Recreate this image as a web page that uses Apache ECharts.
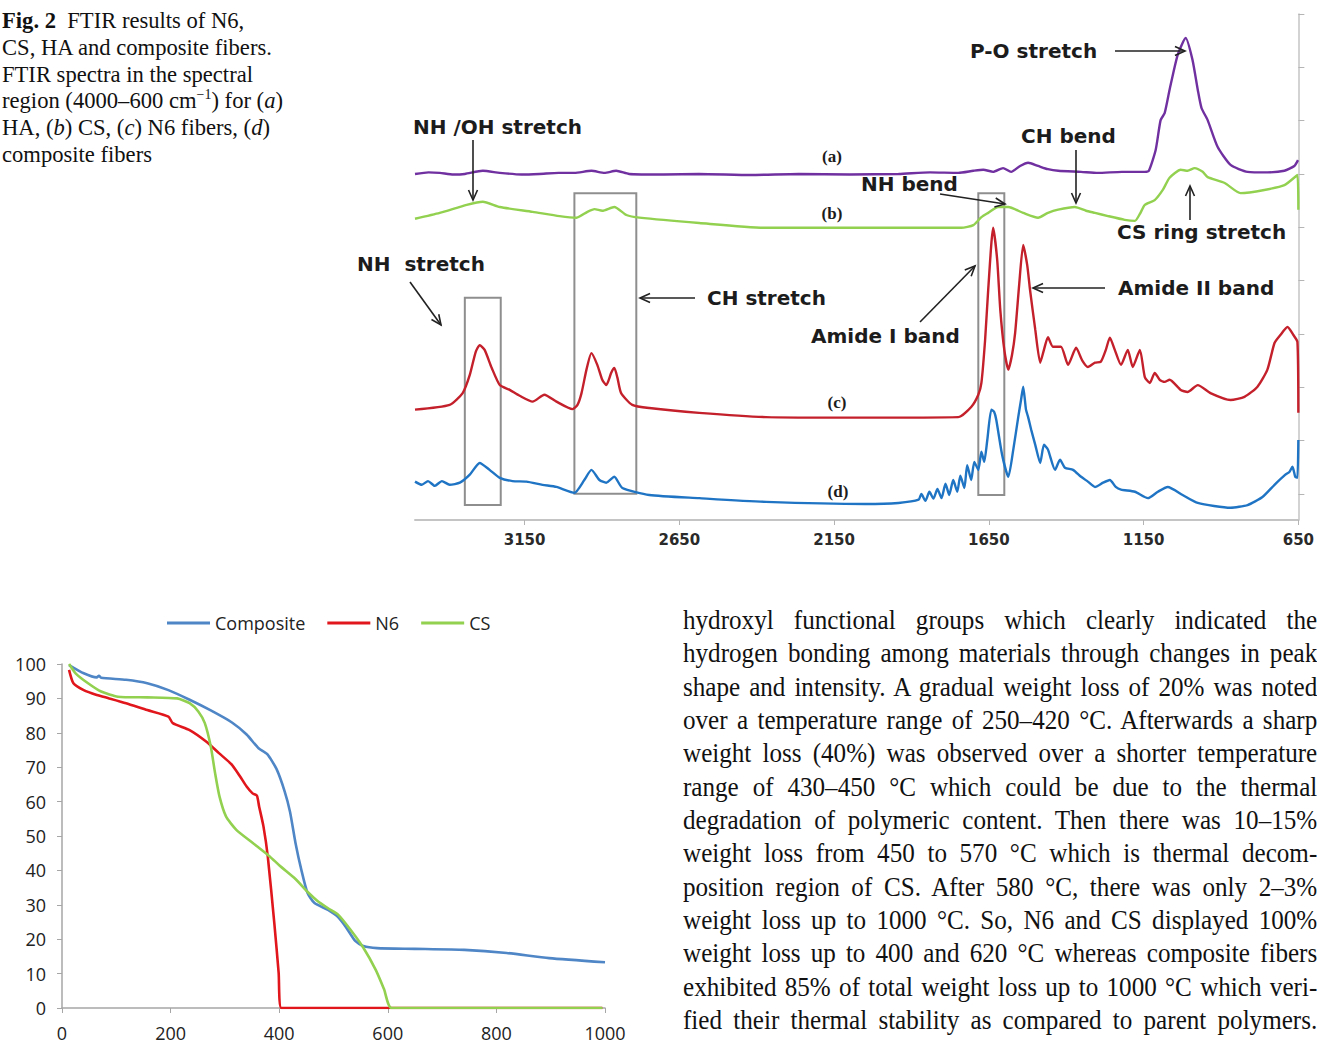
<!DOCTYPE html>
<html>
<head>
<meta charset="utf-8">
<title>Fig. 2 FTIR and TGA of N6, CS, HA and composite fibers</title>
<script src="https://cdn.jsdelivr.net/npm/echarts@6/dist/echarts.min.js"></script>
<style>
    html, body {
        margin: 0;
        padding: 0;
        background: #fff;
    }
    #page {
        position: relative;
        width: 1317px;
        height: 1046px;
        overflow: hidden;
    }
    #chart {
        position: absolute;
        left: 0;
        top: 0;
        width: 1317px;
        height: 1046px;
    }
    .caption {
        position: absolute;
        left: 2px;
        top: 8px;
        font: 22.6px/26.8px "Liberation Serif", "Times New Roman", serif;
        color: #111;
        white-space: nowrap;
    }
    .caption sup {
        font-size: 0.62em;
        line-height: 0;
    }
    .body-text {
        position: absolute;
        left: 683px;
        top: 604px;
        width: 682px;
        font: 27px/33.33px "Liberation Serif", "Times New Roman", serif;
        color: #111;
        transform: scaleX(0.93);
        transform-origin: 0 0;
    }
    .body-text div {
        height: 33.33px;
        text-align: justify;
        text-align-last: justify;
    }
</style>
</head>
<body>
<div id="page">
    <div id="chart"></div>
    <div class="caption">
        <b>Fig. 2</b>&nbsp;&nbsp;FTIR results of N6,<br>
        CS, HA and composite fibers.<br>
        FTIR spectra in the spectral<br>
        region (4000–600 cm<sup>−1</sup>) for (<i>a</i>)<br>
        HA, (<i>b</i>) CS, (<i>c</i>) N6 fibers, (<i>d</i>)<br>
        composite fibers
    </div>
    <div class="body-text">
        <div>hydroxyl functional groups which clearly indicated the</div>
        <div>hydrogen bonding among materials through changes in peak</div>
        <div>shape and intensity. A gradual weight loss of 20% was noted</div>
        <div>over a temperature range of 250–420 °C. Afterwards a sharp</div>
        <div>weight loss (40%) was observed over a shorter temperature</div>
        <div>range of 430–450 °C which could be due to the thermal</div>
        <div>degradation of polymeric content. Then there was 10–15%</div>
        <div>weight loss from 450 to 570 °C which is thermal decom-</div>
        <div>position region of CS. After 580 °C, there was only 2–3%</div>
        <div>weight loss up to 1000 °C. So, N6 and CS displayed 100%</div>
        <div>weight loss up to 400 and 620 °C whereas composite fibers</div>
        <div>exhibited 85% of total weight loss up to 1000 °C which veri-</div>
        <div>fied their thermal stability as compared to parent polymers.</div>
    </div>
</div>
<script>
// ---- FTIR spectra: [wavenumber cm-1, absorbance (a.u., stacked)] ----
const ftirHA = [[3504,60.0],[3460,60.3],[3424,60.2],[3380,59.9],[3343,60.0],[3285,60.6],[3230,60.2],[3160,59.9],[3102,60.0],[3040,60.2],[2989,60.2],[2934,60.6],[2892,60.2],[2854,60.6],[2812,60.0],[2700,59.9],[2586,60.0],[2420,59.8],[2264,60.0],[2100,59.9],[1942,60.0],[1840,60.3],[1749,60.2],[1700,60.6],[1668,60.8],[1636,60.4],[1604,61.1],[1578,60.4],[1549,61.5],[1523,62.1],[1491,61.5],[1459,60.9],[1426,60.6],[1352,60.4],[1298,60.2],[1220,60.4],[1146,60.4],[1133,60.6],[1111,64.5],[1095,70.1],[1082,71.4],[1066,75.8],[1040,82.3],[1014,85.5],[992,81.4],[975,75.8],[963,72.4],[943,70.1],[911,65.1],[869,61.7],[814,60.4],[750,60.3],[695,60.6],[663,61.5],[651,62.6]];
const ftirCS = [[3504,51.6],[3424,52.7],[3337,54.2],[3285,54.8],[3230,53.8],[3124,52.9],[3037,52.1],[2982,51.8],[2947,52.9],[2924,53.4],[2899,53.1],[2860,53.8],[2821,52.3],[2779,51.8],[2586,50.8],[2370,49.9],[2071,49.9],[1739,49.9],[1700,50.4],[1674,51.9],[1652,52.7],[1620,53.8],[1587,53.8],[1539,52.7],[1491,51.8],[1459,52.7],[1426,53.3],[1372,53.8],[1336,53.1],[1307,52.7],[1265,52.1],[1211,51.4],[1178,51.2],[1162,52.5],[1146,54.2],[1114,55.1],[1088,57.0],[1066,59.3],[1030,60.8],[1008,60.6],[985,61.1],[959,60.4],[943,59.4],[888,58.3],[837,56.4],[760,57.0],[695,57.9],[653,59.8],[650,53.3]];
const ftirN6 = [[3504,15.8],[3392,16.7],[3350,18.9],[3327,22.3],[3308,26.6],[3295,27.9],[3279,27.0],[3256,23.6],[3230,20.4],[3198,19.5],[3166,18.4],[3124,17.3],[3086,18.6],[3047,17.3],[2995,15.9],[2979,16.7],[2966,18.9],[2950,23.3],[2934,26.4],[2915,24.2],[2899,21.4],[2886,20.4],[2870,22.7],[2860,23.6],[2850,21.8],[2838,18.9],[2802,16.7],[2747,16.1],[2586,15.2],[2370,14.4],[2071,14.3],[1749,14.4],[1707,16.3],[1684,18.6],[1674,20.8],[1662,28.9],[1652,38.3],[1636,49.9],[1623,43.9],[1613,34.5],[1600,27.0],[1587,23.3],[1575,26.1],[1565,30.2],[1552,39.2],[1539,46.7],[1526,42.9],[1517,38.3],[1500,30.8],[1484,24.6],[1472,27.0],[1459,29.4],[1443,27.6],[1417,27.6],[1394,24.2],[1368,27.4],[1349,25.1],[1330,23.8],[1307,24.6],[1288,24.8],[1272,27.0],[1259,29.3],[1243,27.0],[1223,24.2],[1201,27.0],[1185,23.8],[1162,27.0],[1146,21.9],[1130,20.8],[1114,22.7],[1098,21.4],[1082,21.0],[1066,21.4],[1030,19.5],[1008,19.1],[975,20.4],[934,18.9],[869,17.6],[824,18.2],[782,20.1],[750,23.3],[727,28.3],[708,29.8],[685,31.3],[666,29.8],[653,28.5],[650,15.2]];
const ftirComposite = [[3504,2.3],[3482,1.7],[3462,2.4],[3440,1.5],[3417,2.4],[3392,1.7],[3359,2.1],[3327,3.6],[3295,5.8],[3263,4.5],[3230,3.0],[3189,2.4],[3144,2.3],[3092,1.7],[3047,1.3],[2989,0.2],[2957,2.6],[2934,4.5],[2908,2.6],[2886,2.1],[2860,3.2],[2834,1.1],[2747,-0.2],[2586,-0.8],[2370,-1.5],[2048,-1.9],[1942,-1.7],[1877,-1.1],[1868,0.0],[1855,-1.3],[1842,0.4],[1829,-0.9],[1816,0.9],[1803,-0.8],[1790,1.9],[1778,-0.2],[1765,2.6],[1752,0.4],[1742,3.4],[1729,1.1],[1720,5.4],[1707,2.6],[1697,6.0],[1684,4.5],[1674,7.9],[1665,6.0],[1655,10.1],[1642,15.8],[1633,15.4],[1626,13.9],[1607,7.3],[1587,3.2],[1571,8.3],[1555,14.4],[1546,17.6],[1539,20.1],[1530,15.8],[1523,14.4],[1513,12.0],[1500,9.2],[1484,5.8],[1472,9.2],[1459,8.3],[1436,4.5],[1420,6.4],[1404,4.9],[1378,4.5],[1352,3.2],[1330,2.3],[1307,1.3],[1281,2.1],[1259,2.6],[1240,1.3],[1223,0.8],[1178,0.4],[1136,-0.8],[1104,0.4],[1072,1.3],[1024,-0.2],[975,-1.7],[869,-2.6],[814,-2.1],[766,-0.6],[727,1.7],[692,3.6],[679,4.1],[669,5.1],[660,3.2],[653,3.0],[650,10.1]];
const ftirTicks = [3150, 2650, 2150, 1650, 1150, 650];
const ftirYTicks = [0, 10, 20, 30, 40, 50, 60, 70, 80, 90];
// highlighted bands: [[wn, abs], [wn, abs]]
const ftirBoxes = [[[3343, 36.8], [3227, -2.1]], [[2989, 56.4], [2789, 0]], [[1684, 56.4], [1600, -0.2]]];

// ---- TGA: [temperature °C, weight %] ----
const tgaComposite = [[13,99.7],[40,97.3],[64,96.1],[68,96.6],[72,96.0],[118,95.4],[157,94.4],[196,92.4],[235,89.6],[274,86.5],[313,83.0],[340,79.5],[362,75.5],[378,73.8],[395,69.5],[410,63.0],[420,57.0],[430,48.0],[441,40.0],[452,33.5],[465,30.5],[490,28.5],[508,26.5],[523,23.5],[540,19.5],[555,18.0],[580,17.4],[650,17.2],[741,16.9],[819,16.0],[897,14.5],[1000,13.3]];
const tgaN6 = [[13,98.3],[21,94.4],[40,92.4],[64,91.0],[87,90.0],[118,88.6],[157,86.6],[196,84.7],[204,82.8],[235,80.8],[266,77.4],[289,74.1],[313,70.7],[328,67.3],[340,64.4],[351,62.4],[359,61.7],[363,58.6],[371,52.8],[379,44.0],[391,24.7],[399,10.2],[404,0],[600,0],[800,0],[995,0]];
const tgaCS = [[13,100],[25,97.3],[48,94.4],[72,92.0],[103,90.5],[157,90.3],[212,90.0],[235,88.6],[251,86.2],[263,82.8],[274,76.0],[282,68.2],[290,61.5],[302,55.7],[321,51.8],[352,47.9],[383,44.0],[400,41.5],[430,37.5],[452,33.8],[470,31.2],[490,29.0],[508,27.2],[531,22.8],[555,17.5],[578,11.0],[593,5.5],[607,0],[800,0],[995,0]];
const tgaNames = ['Composite', 'N6', 'CS'];

// ---- annotations of the FTIR panel (page pixels) ----
const ftirNotes = [
    { text: 'P-O stretch', x: 970, y: 51 },
    { text: 'NH /OH stretch', x: 413, y: 127 },
    { text: 'CH bend', x: 1021, y: 136 },
    { text: 'NH bend', x: 861, y: 184 },
    { text: 'CS ring stretch', x: 1117, y: 232 },
    { text: 'NH  stretch', x: 357, y: 264 },
    { text: 'CH stretch', x: 707, y: 298 },
    { text: 'Amide II band', x: 1118, y: 288 },
    { text: 'Amide I band', x: 811, y: 336 }
];
const ftirTags = [
    { text: '(a)', x: 832, y: 156 },
    { text: '(b)', x: 832, y: 213 },
    { text: '(c)', x: 837, y: 402 },
    { text: '(d)', x: 838, y: 491 }
];
const ftirArrows = [
    [1115, 51, 1185, 51],
    [473, 140, 473, 200],
    [1076, 150, 1076, 203],
    [940, 194, 1005, 204],
    [1190, 220, 1190, 186],
    [410, 282, 441, 325],
    [695, 298, 640, 298],
    [920, 322, 975, 266],
    [1105, 288, 1033, 288]
];

const chart = echarts.init(document.getElementById('chart'), null, { renderer: 'svg' });

const arrowParts = (a) => {
    const [x1, y1, x2, y2] = a;
    const ang = Math.atan2(y2 - y1, x2 - x1);
    const h = 11, w = 0.42;
    const p1 = [x2 - h * Math.cos(ang - w), y2 - h * Math.sin(ang - w)];
    const p2 = [x2 - h * Math.cos(ang + w), y2 - h * Math.sin(ang + w)];
    return [
        { type: 'line', z: 20, shape: { x1, y1, x2, y2 }, style: { stroke: '#222', lineWidth: 1.6 } },
        { type: 'polyline', z: 20, shape: { points: [p1, [x2, y2], p2] }, style: { stroke: '#222', lineWidth: 1.6, fill: null } }
    ];
};

const graphics = [];
ftirNotes.forEach((n) => {
    graphics.push({
        type: 'text', x: n.x, y: n.y, z: 20,
        style: { text: n.text, font: 'bold 20px "DejaVu Sans"', fill: '#1c1c1c', align: 'left', verticalAlign: 'middle' }
    });
});
ftirTags.forEach((n) => {
    graphics.push({
        type: 'text', x: n.x, y: n.y, z: 20,
        style: { text: n.text, font: 'bold 17px "Liberation Serif"', fill: '#1c1c1c', align: 'center', verticalAlign: 'middle' }
    });
});
ftirArrows.forEach((a) => graphics.push(...arrowParts(a)));

const ftirLine = (name, data, color) => ({
    name,
    type: 'line',
    xAxisIndex: 0,
    yAxisIndex: 0,
    data,
    showSymbol: false,
    smooth: 0.2,
    lineStyle: { color, width: 2.4 },
    itemStyle: { color },
    z: 5
});
const tgaLine = (name, data, color) => ({
    name,
    type: 'line',
    xAxisIndex: 1,
    yAxisIndex: 1,
    data,
    showSymbol: false,
    smooth: 0.2,
    lineStyle: { color, width: 2.6 },
    itemStyle: { color },
    z: 5
});

const compositeSeries = ftirLine('(d) composite', ftirComposite, '#1f74c4');
compositeSeries.markArea = {
    silent: true,
    itemStyle: { color: 'rgba(0,0,0,0)', borderColor: '#8e8e8e', borderWidth: 2 },
    data: ftirBoxes.map((b) => [{ xAxis: b[0][0], yAxis: b[0][1] }, { xAxis: b[1][0], yAxis: b[1][1] }])
};

const plainNumber = (v) => String(v);

const option = {
    animation: false,
    backgroundColor: '#fff',
    grid: [
        { left: 415, right: 16, top: 14, bottom: 526 },
        { left: 62, right: 712, top: 664, bottom: 38 }
    ],
    legend: {
        data: tgaNames,
        left: 162,
        top: 609,
        icon: 'rect',
        itemWidth: 43,
        itemHeight: 3,
        itemGap: 22,
        textStyle: { fontFamily: 'Open Sans', fontSize: 18, color: '#222' }
    },
    xAxis: [
        {
            gridIndex: 0,
            type: 'value',
            inverse: true,
            min: 650,
            max: 3504,
            axisLine: { onZero: false, lineStyle: { color: '#c4c4c4', width: 2 } },
            axisTick: { length: 5, customValues: ftirTicks, lineStyle: { color: '#b4b4b4' } },
            axisLabel: {
                customValues: ftirTicks, margin: 12, formatter: plainNumber,
                color: '#2a2a2a', fontFamily: 'DejaVu Sans', fontWeight: 'bold', fontSize: 15
            },
            splitLine: { show: false }
        },
        {
            gridIndex: 1,
            type: 'value',
            min: 0,
            max: 1000,
            interval: 200,
            axisLine: { onZero: false, lineStyle: { color: '#a6a6a6', width: 1.5 } },
            axisTick: { length: 5, lineStyle: { color: '#a6a6a6' } },
            axisLabel: { margin: 16, formatter: plainNumber, color: '#222', fontFamily: 'Open Sans', fontSize: 18 },
            splitLine: { show: false }
        }
    ],
    yAxis: [
        {
            gridIndex: 0,
            type: 'value',
            position: 'right',
            min: -4.9,
            max: 90,
            axisLine: { show: true, onZero: false, lineStyle: { color: '#c4c4c4', width: 1.5 } },
            axisTick: { show: true, length: 6, customValues: ftirYTicks, lineStyle: { color: '#b4b4b4' } },
            axisLabel: { show: false },
            splitLine: { show: false }
        },
        {
            gridIndex: 1,
            type: 'value',
            min: 0,
            max: 100,
            interval: 10,
            axisLine: { show: true, onZero: false, lineStyle: { color: '#a6a6a6', width: 1.5 } },
            axisTick: { show: true, length: 5, lineStyle: { color: '#a6a6a6' } },
            axisLabel: { margin: 16, color: '#222', fontFamily: 'Open Sans', fontSize: 18 },
            splitLine: { show: false }
        }
    ],
    series: [
        ftirLine('(a) HA', ftirHA, '#7030a0'),
        ftirLine('(b) CS', ftirCS, '#92d050'),
        ftirLine('(c) N6', ftirN6, '#c3202b'),
        compositeSeries,
        tgaLine('Composite', tgaComposite, '#4f86c6'),
        tgaLine('N6', tgaN6, '#e0161c'),
        tgaLine('CS', tgaCS, '#92d050')
    ],
    graphic: graphics
};

chart.setOption(option);
window.addEventListener('resize', () => {
    chart.resize();
});
</script>
</body>
</html>
